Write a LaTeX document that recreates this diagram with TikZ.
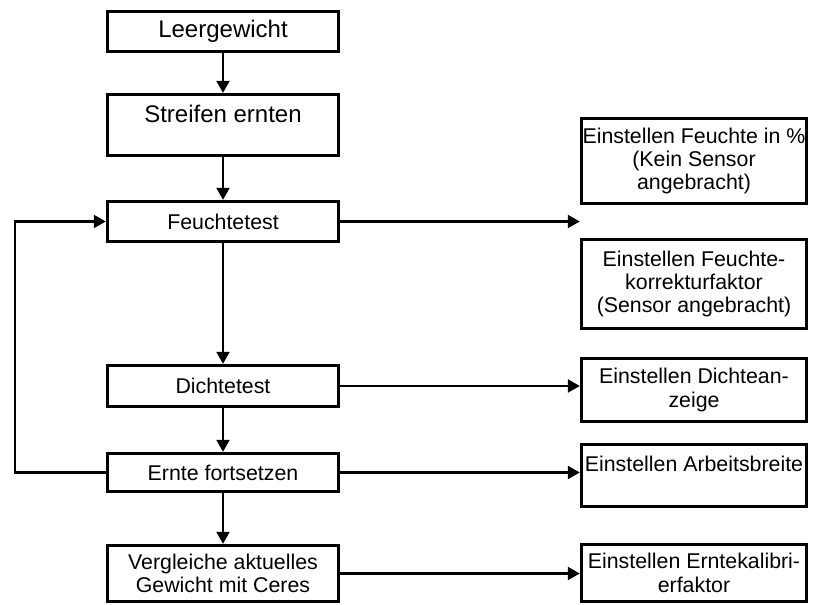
\documentclass[tikz,border=0pt]{standalone}
\usepackage{fontspec}
\setmainfont{Liberation Sans}
\usetikzlibrary{arrows.meta}

\begin{document}
\begin{tikzpicture}[x=0.75pt,y=-0.75pt,
  box/.style={draw, line width=2.4pt, align=center, font=\fontsize{16}{17.5}\selectfont},
  lbox/.style={box, minimum width=173.25pt},
  rbox/.style={box, minimum width=168.75pt, inner xsep=0pt},
  arr/.style={-{Triangle[length=9pt,width=9.5pt]}, line width=2.1pt}]
\useasboundingbox (0,0) rectangle (814,604);

% main column
\node[lbox, minimum height=30pt, font=\fontsize{18}{20}\selectfont] (lg) at (223,31.5) {Leergewicht};
\node[lbox, inner ysep=0pt, text height=20.6pt, text depth=25.1pt, font=\fontsize{18}{20}\selectfont] (se) at (223,125) {Streifen ernten};
\node[lbox, minimum height=30pt] (ft) at (223,221.5) {Feuchtetest};
\node[lbox, minimum height=30.75pt] (dt) at (223,386) {Dichtetest};
\node[lbox, minimum height=28.5pt] (ef) at (223,472.5) {Ernte fortsetzen};
\node[lbox, minimum height=42pt] (vg) at (223,573.5) {Vergleiche aktuelles\\Gewicht mit Ceres};

% settings column
\node[rbox, minimum height=63.75pt] (fp) at (694,161) {Einstellen Feuchte in \%\\(Kein Sensor\\angebracht)};
\node[rbox, minimum height=66.75pt] (fk) at (694,284) {Einstellen Feuchte-\\korrekturfaktor\\(Sensor angebracht)};
\node[rbox, minimum height=47.25pt] (da) at (694,390) {Einstellen Dichtean-\\zeige};
\node[rbox, inner ysep=0pt, text height=20.6pt, text depth=25.9pt] (ab) at (694,475.5) {Einstellen Arbeitsbreite};
\node[rbox, minimum height=42.75pt] (ek) at (694,573) {Einstellen Erntekalibri-\\erfaktor};

% flow
\draw[arr] (lg) -- (se);
\draw[arr] (se) -- (ft);
\draw[arr] (ft) -- (dt);
\draw[arr] (dt) -- (ef);
\draw[arr] (ef) -- (vg);

\draw[arr] (ft.east) -- (ft.east -| fp.west);
\draw[arr] (dt.east) -- (dt.east -| da.west);
\draw[arr] (ef.east) -- (ef.east -| ab.west);
\draw[arr] (vg.east) -- (vg.east -| ek.west);

% loop back
\coordinate (lp) at (15,0);
\draw[arr] (ef.west) -- (ef.west -| lp) |- (ft.west);
\end{tikzpicture}
\end{document}
